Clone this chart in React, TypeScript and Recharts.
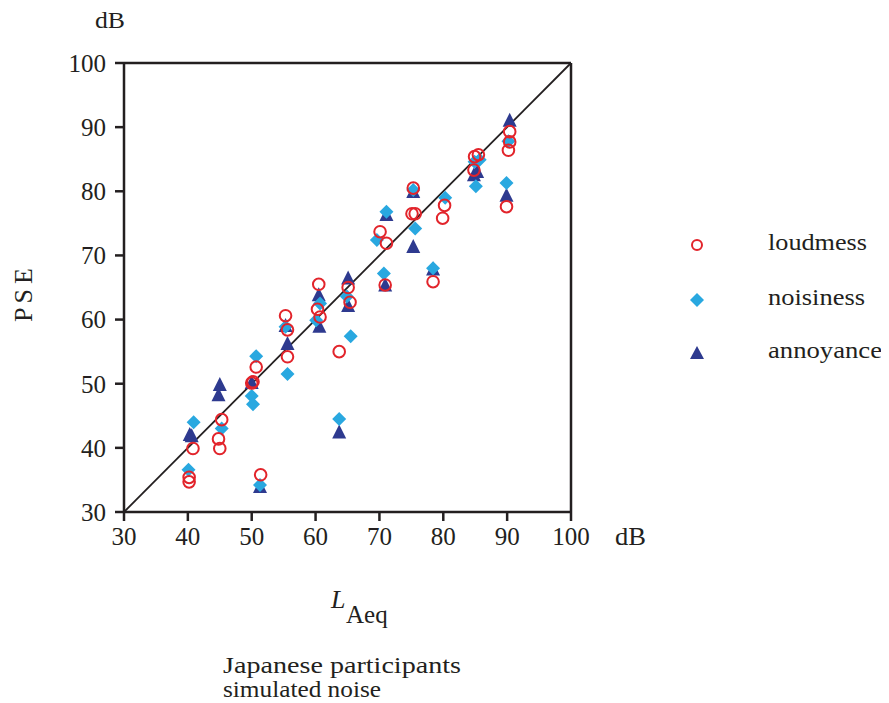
import React from "react";
import { ScatterChart, Scatter, XAxis, YAxis, ReferenceLine } from "recharts";

const ticks = [30, 40, 50, 60, 70, 80, 90, 100];

const loudness = [
  { x: 40.2, y: 34.7 }, { x: 40.2, y: 35.4 }, { x: 40.8, y: 39.9 }, { x: 44.8, y: 41.4 },
  { x: 45.0, y: 39.9 }, { x: 45.3, y: 44.4 }, { x: 50.0, y: 50.1 }, { x: 50.2, y: 50.3 },
  { x: 50.7, y: 52.6 }, { x: 51.4, y: 35.8 }, { x: 55.3, y: 60.6 }, { x: 55.6, y: 58.4 },
  { x: 55.6, y: 54.2 }, { x: 60.3, y: 61.6 }, { x: 60.5, y: 65.5 }, { x: 60.7, y: 60.4 },
  { x: 63.7, y: 55.0 }, { x: 65.1, y: 65.0 }, { x: 65.4, y: 62.7 }, { x: 70.1, y: 73.7 },
  { x: 70.9, y: 65.4 }, { x: 71.1, y: 71.9 }, { x: 75.3, y: 80.5 }, { x: 75.1, y: 76.5 },
  { x: 75.6, y: 76.5 }, { x: 78.4, y: 65.9 }, { x: 79.9, y: 75.8 }, { x: 80.2, y: 77.8 },
  { x: 84.8, y: 83.3 }, { x: 84.9, y: 85.4 }, { x: 85.5, y: 85.7 }, { x: 89.9, y: 77.6 },
  { x: 90.2, y: 86.4 }, { x: 90.4, y: 87.7 }, { x: 90.4, y: 89.3 },
];

const noisiness = [
  { x: 40.1, y: 36.6 }, { x: 40.9, y: 44.0 }, { x: 45.3, y: 43.0 }, { x: 50.0, y: 48.1 },
  { x: 50.2, y: 46.8 }, { x: 50.7, y: 54.3 }, { x: 51.3, y: 34.2 }, { x: 55.3, y: 58.9 },
  { x: 55.6, y: 51.5 }, { x: 60.1, y: 59.9 }, { x: 60.7, y: 62.5 }, { x: 63.7, y: 44.5 },
  { x: 64.9, y: 63.6 }, { x: 65.5, y: 57.4 }, { x: 69.6, y: 72.4 }, { x: 70.7, y: 67.2 },
  { x: 71.1, y: 76.8 }, { x: 75.3, y: 80.2 }, { x: 75.6, y: 74.2 }, { x: 78.4, y: 68.0 },
  { x: 80.3, y: 79.0 }, { x: 84.9, y: 84.6 }, { x: 85.1, y: 80.8 }, { x: 85.7, y: 84.9 },
  { x: 89.9, y: 81.3 }, { x: 90.2, y: 87.8 },
];

const annoyance = [
  { x: 40.3, y: 42.0 }, { x: 40.6, y: 41.8 }, { x: 44.8, y: 48.2 }, { x: 45.0, y: 49.8 },
  { x: 50.0, y: 50.1 }, { x: 51.3, y: 33.9 }, { x: 55.6, y: 56.2 }, { x: 55.3, y: 59.0 },
  { x: 60.5, y: 63.8 }, { x: 60.6, y: 58.9 }, { x: 63.7, y: 42.4 }, { x: 65.1, y: 66.4 },
  { x: 65.1, y: 62.1 }, { x: 70.9, y: 65.3 }, { x: 71.1, y: 76.3 }, { x: 75.3, y: 79.9 },
  { x: 75.3, y: 71.3 }, { x: 78.4, y: 67.8 }, { x: 84.8, y: 82.5 }, { x: 85.3, y: 83.0 },
  { x: 89.9, y: 79.3 }, { x: 90.4, y: 91.0 },
];

const seriesNames = ["loudmess", "noisiness", "annoyance"];

const RED = "#e2242b";
const LIGHT = "#29a8e0";
const DARK = "#2e3a8f";
const INK = "#231f20";
const FONT = "'Liberation Serif', 'Times New Roman', serif";

const Circle = (p: any) => (
  <circle cx={p.cx} cy={p.cy} r={5.8} fill="none" stroke={RED} strokeWidth={2} />
);
const Diamond = (p: any) => (
  <path d={`M${p.cx},${p.cy - 7}L${p.cx + 7},${p.cy}L${p.cx},${p.cy + 7}L${p.cx - 7},${p.cy}Z`} fill={LIGHT} />
);
const Triangle = (p: any) => (
  <path d={`M${p.cx},${p.cy - 8}L${p.cx + 7},${p.cy + 6}L${p.cx - 7},${p.cy + 6}Z`} fill={DARK} />
);

const tickStyle = { fill: INK, fontSize: 25, fontFamily: FONT };

export default function App() {
  return (
    <div style={{ position: "relative", width: 880, height: 694, fontFamily: FONT }}>
      <ScatterChart width={880} height={694} margin={{ top: 55, left: 0, right: 317, bottom: 160 }}>
        <XAxis
          type="number"
          dataKey="x"
          domain={[30, 100]}
          ticks={ticks}
          allowDataOverflow
          stroke={INK}
          strokeWidth={2.5}
          tickSize={9}
          tickMargin={6}
          height={30}
          tick={tickStyle}
        />
        <YAxis
          type="number"
          dataKey="y"
          domain={[30, 100]}
          ticks={ticks}
          allowDataOverflow
          stroke={INK}
          strokeWidth={2.5}
          tickSize={9}
          tickMargin={9}
          width={116}
          tick={tickStyle}
        />
        <ReferenceLine y={100} stroke={INK} strokeWidth={2.5} />
        <ReferenceLine x={100} stroke={INK} strokeWidth={2.5} />
        <ReferenceLine segment={[{ x: 30, y: 30 }, { x: 100, y: 100 }]} stroke={INK} strokeWidth={1.8} />
        <Scatter name={seriesNames[2]} data={annoyance} shape={Triangle} isAnimationActive={false} />
        <Scatter name={seriesNames[1]} data={noisiness} shape={Diamond} isAnimationActive={false} />
        <Scatter name={seriesNames[0]} data={loudness} shape={Circle} isAnimationActive={false} />
      </ScatterChart>
      <svg width={880} height={694} style={{ position: "absolute", left: 0, top: 0, pointerEvents: "none" }}>
        <g fontFamily={FONT} fill={INK}>
          <text x={87} y={20} fontSize={24} textLength={30} lengthAdjust="spacingAndGlyphs">dB</text>
          <text x={607} y={537} fontSize={25} textLength={31} lengthAdjust="spacingAndGlyphs">dB</text>
          <text x={24} y={287} fontSize={26} textAnchor="middle" textLength={54} lengthAdjust="spacing" transform="rotate(-90 24 287)">P S E</text>
          <text x={323} y={600} fontSize={26} fontStyle="italic">L</text>
          <text x={338} y={615} fontSize={25}>Aeq</text>
          <text x={215} y={665} fontSize={24} textLength={238} lengthAdjust="spacingAndGlyphs">Japanese participants</text>
          <text x={215} y={689} fontSize={24} textLength={158} lengthAdjust="spacingAndGlyphs">simulated noise</text>
          <circle cx={689} cy={237} r={5} fill="none" stroke={RED} strokeWidth={2} />
          <text x={760} y={242} fontSize={23} textLength={99} lengthAdjust="spacingAndGlyphs">{seriesNames[0]}</text>
          <path d="M689,285L696,292L689,299L682,292Z" fill={LIGHT} />
          <text x={760} y={297} fontSize={23} textLength={97} lengthAdjust="spacingAndGlyphs">{seriesNames[1]}</text>
          <path d="M689,338L696,351L682,351Z" fill={DARK} />
          <text x={760} y={350} fontSize={23} textLength={114} lengthAdjust="spacingAndGlyphs">{seriesNames[2]}</text>
        </g>
      </svg>
    </div>
  );
}
